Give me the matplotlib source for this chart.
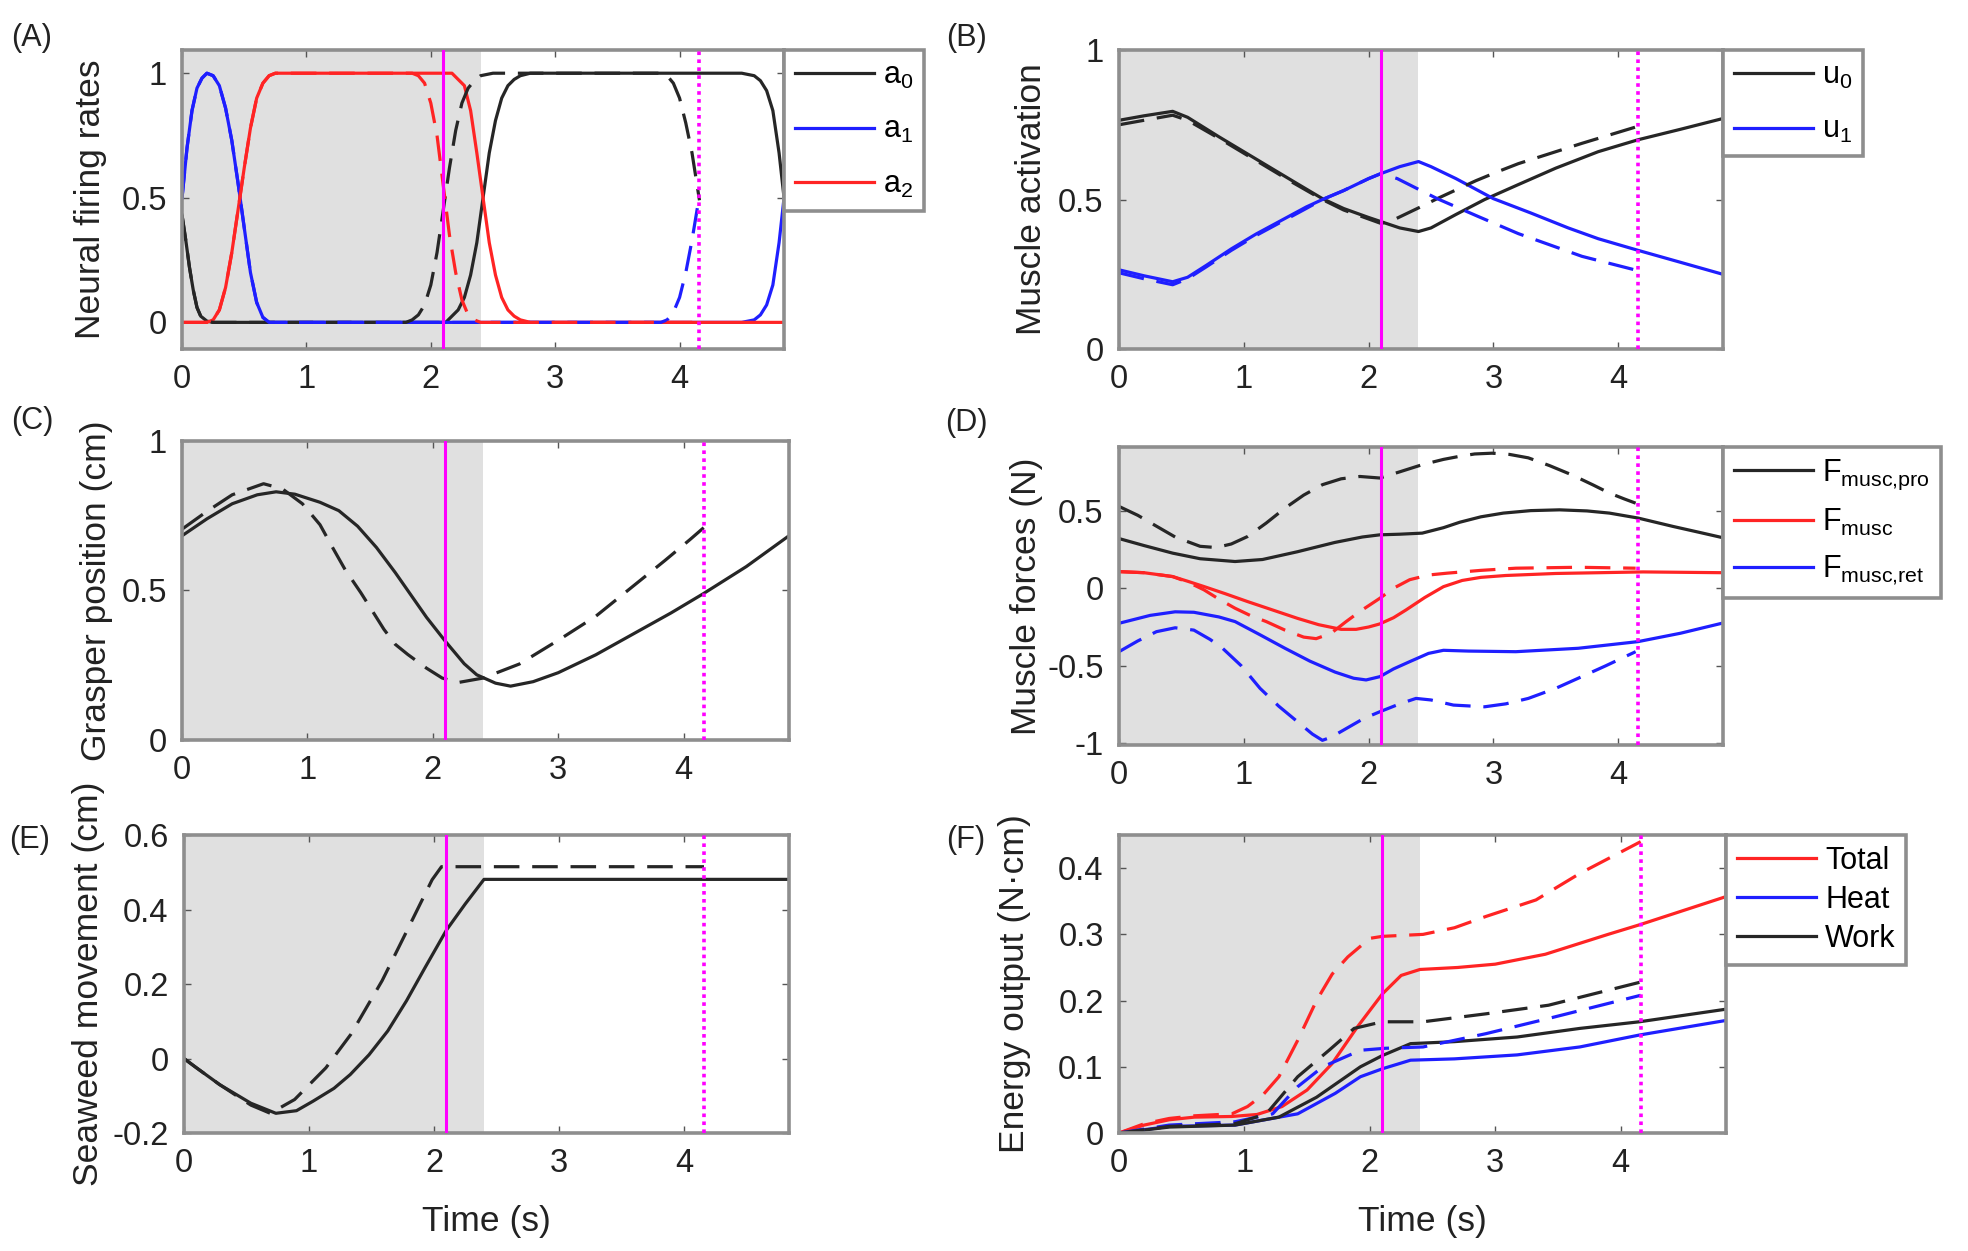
import matplotlib
matplotlib.use('Agg')
import matplotlib.pyplot as plt

plt.rcParams['font.family'] = ['Liberation Sans', 'DejaVu Sans']
plt.rcParams['mathtext.default'] = 'regular'

# ---- data (time in s) ----
# (A) neural firing rates
a0_t = [0, 0.03, 0.06, 0.09, 0.12, 0.15, 0.2, 0.25, 2.12, 2.17, 2.22, 2.27, 2.32, 2.37, 2.42,
        2.47, 2.52, 2.57, 2.62, 2.67, 2.72, 2.8, 4.5, 4.6, 4.65, 4.7, 4.75, 4.8, 4.84]
a0 = [0.43, 0.33, 0.22, 0.13, 0.06, 0.025, 0.005, 0, 0, 0.025, 0.05, 0.10, 0.19, 0.32, 0.5,
      0.68, 0.81, 0.90, 0.95, 0.975, 0.99, 1.0, 1.0, 0.99, 0.97, 0.93, 0.85, 0.68, 0.5]
a1_t = [0, 0.04, 0.08, 0.12, 0.16, 0.2, 0.25, 0.3, 0.35, 0.4, 0.45, 0.5, 0.55, 0.6, 0.65, 0.7,
        4.5, 4.6, 4.65, 4.7, 4.75, 4.8, 4.84]
a1 = [0.5, 0.7, 0.85, 0.94, 0.98, 1.0, 0.99, 0.95, 0.86, 0.73, 0.56, 0.38, 0.2, 0.08, 0.02, 0,
      0, 0.01, 0.03, 0.07, 0.15, 0.32, 0.5]
a2_t = [0, 0.2, 0.25, 0.3, 0.35, 0.4, 0.45, 0.5, 0.55, 0.6, 0.65, 0.7, 0.75, 2.17, 2.22, 2.27,
        2.32, 2.37, 2.42, 2.47, 2.52, 2.57, 2.62, 2.67, 2.72, 2.8, 4.84]
a2 = [0, 0, 0.01, 0.05, 0.14, 0.28, 0.45, 0.62, 0.78, 0.9, 0.96, 0.99, 1.0, 1.0, 0.975, 0.95,
      0.85, 0.68, 0.5, 0.32, 0.19, 0.10, 0.05, 0.025, 0.01, 0, 0]
a0d_t = [0, 0.03, 0.06, 0.09, 0.12, 0.15, 0.2, 0.25, 1.8, 1.85, 1.9, 1.95, 2.0, 2.05, 2.1, 2.15,
         2.2, 2.25, 2.3, 2.35, 2.4, 2.5, 3.85, 3.9, 3.95, 4.0, 4.05, 4.1, 4.16]
a0d = [0.43, 0.33, 0.22, 0.13, 0.06, 0.025, 0.005, 0, 0, 0.01, 0.03, 0.07, 0.15, 0.28, 0.45,
       0.62, 0.77, 0.88, 0.94, 0.97, 0.99, 1.0, 1.0, 0.99, 0.96, 0.9, 0.8, 0.68, 0.49]
a1d_t = [0, 0.04, 0.08, 0.12, 0.16, 0.2, 0.25, 0.3, 0.35, 0.4, 0.45, 0.5, 0.55, 0.6, 0.65, 0.7,
         3.85, 3.9, 3.95, 4.0, 4.05, 4.1, 4.16]
a1d = [0.5, 0.7, 0.85, 0.94, 0.98, 1.0, 0.99, 0.95, 0.86, 0.73, 0.56, 0.38, 0.2, 0.08, 0.02, 0,
       0, 0.01, 0.04, 0.1, 0.2, 0.33, 0.51]
a2d_t = [0, 0.2, 0.25, 0.3, 0.35, 0.4, 0.45, 0.5, 0.55, 0.6, 0.65, 0.7, 0.75, 1.85, 1.9, 1.95,
         2.0, 2.05, 2.1, 2.15, 2.2, 2.25, 2.3, 2.35, 2.4, 4.16]
a2d = [0, 0, 0.01, 0.05, 0.14, 0.28, 0.45, 0.62, 0.78, 0.9, 0.96, 0.99, 1.0, 1.0, 0.99, 0.96,
       0.88, 0.75, 0.55, 0.35, 0.2, 0.09, 0.03, 0.01, 0, 0]

# (B) muscle activation
u0_t = [0, 0.2, 0.43, 0.55, 0.8, 1.0, 1.2, 1.4, 1.63, 1.8, 2.0, 2.1, 2.25, 2.4, 2.5, 2.7, 2.93,
        3.2, 3.5, 3.84, 4.16, 4.5, 4.83]
u0 = [0.765, 0.78, 0.795, 0.775, 0.71, 0.66, 0.61, 0.56, 0.503, 0.47, 0.44, 0.426, 0.405, 0.393,
      0.405, 0.45, 0.5, 0.55, 0.605, 0.66, 0.70, 0.735, 0.77]
u1_t = [0, 0.2, 0.43, 0.55, 0.7, 0.9, 1.1, 1.3, 1.5, 1.63, 1.8, 2.0, 2.1, 2.25, 2.4, 2.5, 2.7,
        3.0, 3.3, 3.6, 3.84, 4.16, 4.5, 4.83]
u1 = [0.265, 0.245, 0.225, 0.24, 0.28, 0.335, 0.385, 0.43, 0.475, 0.5, 0.53, 0.57, 0.587, 0.61,
      0.627, 0.61, 0.57, 0.503, 0.455, 0.405, 0.369, 0.33, 0.29, 0.251]
u0d_t = [0, 0.2, 0.43, 0.55, 0.8, 1.0, 1.2, 1.4, 1.63, 1.8, 2.0, 2.1, 2.2, 2.42, 2.55, 2.86,
         3.04, 3.2, 3.71, 4.16]
u0d = [0.75, 0.765, 0.782, 0.765, 0.705, 0.655, 0.605, 0.555, 0.5, 0.465, 0.435, 0.42, 0.432,
       0.476, 0.503, 0.563, 0.594, 0.62, 0.688, 0.745]
u1d_t = [0, 0.2, 0.43, 0.55, 0.7, 0.9, 1.1, 1.3, 1.5, 1.63, 1.8, 2.0, 2.1, 2.23, 2.42, 2.55,
         2.88, 3.2, 3.71, 4.16]
u1d = [0.255, 0.235, 0.215, 0.235, 0.275, 0.33, 0.38, 0.425, 0.47, 0.5, 0.53, 0.57, 0.587, 0.57,
       0.53, 0.503, 0.443, 0.386, 0.31, 0.262]

# (C) grasper position
xg_t = [0, 0.2, 0.4, 0.6, 0.75, 0.9, 1.1, 1.25, 1.4, 1.55, 1.7, 1.8, 1.95, 2.1, 2.25, 2.35, 2.5,
        2.62, 2.8, 3.0, 3.3, 3.6, 3.9, 4.16, 4.5, 4.84]
xg = [0.683, 0.74, 0.79, 0.82, 0.83, 0.822, 0.795, 0.767, 0.715, 0.644, 0.56, 0.50, 0.41, 0.33,
      0.255, 0.218, 0.19, 0.18, 0.195, 0.225, 0.285, 0.355, 0.425, 0.49, 0.58, 0.683]
xgd_t = [0, 0.2, 0.4, 0.65, 0.8, 0.96, 1.1, 1.2, 1.3, 1.425, 1.52, 1.61, 1.7, 1.8, 1.95, 2.075,
         2.2, 2.4, 2.69, 3.01, 3.3, 3.575, 3.85, 4.05, 4.16]
xgd = [0.705, 0.765, 0.82, 0.857, 0.84, 0.79, 0.72, 0.644, 0.57, 0.493, 0.43, 0.37, 0.32, 0.286,
       0.24, 0.207, 0.192, 0.207, 0.254, 0.336, 0.414, 0.507, 0.60, 0.67, 0.71]

# (D) muscle forces
fpro_t = [0, 0.2, 0.43, 0.65, 0.93, 1.15, 1.43, 1.73, 1.95, 2.09, 2.25, 2.43, 2.6, 2.73, 2.9,
          3.08, 3.3, 3.53, 3.75, 3.93, 4.16, 4.44, 4.65, 4.83]
fpro = [0.32, 0.275, 0.226, 0.19, 0.172, 0.185, 0.235, 0.295, 0.33, 0.344, 0.348, 0.355, 0.39,
        0.425, 0.46, 0.484, 0.5, 0.505, 0.498, 0.484, 0.452, 0.398, 0.36, 0.327]
fmus_t = [0, 0.2, 0.43, 0.55, 0.68, 0.85, 1.03, 1.23, 1.43, 1.6, 1.78, 1.9, 2.0, 2.09, 2.2, 2.3,
          2.45, 2.6, 2.75, 2.9, 3.1, 3.5, 4.2, 4.83]
fmus = [0.107, 0.1, 0.075, 0.045, 0.011, -0.035, -0.086, -0.14, -0.194, -0.235, -0.265, -0.265,
        -0.25, -0.23, -0.19, -0.14, -0.06, 0.01, 0.05, 0.07, 0.082, 0.095, 0.105, 0.1]
fret_t = [0, 0.25, 0.45, 0.6, 0.8, 0.93, 1.13, 1.33, 1.53, 1.73, 1.88, 1.98, 2.09, 2.2, 2.33,
          2.48, 2.6, 2.8, 3.18, 3.68, 4.16, 4.5, 4.83]
fret = [-0.226, -0.175, -0.152, -0.155, -0.185, -0.215, -0.3, -0.387, -0.47, -0.54, -0.58,
        -0.591, -0.57, -0.52, -0.473, -0.42, -0.4, -0.405, -0.409, -0.387, -0.344, -0.29, -0.226]
fprod_t = [0, 0.15, 0.28, 0.45, 0.65, 0.78, 0.9, 1.03, 1.18, 1.33, 1.48, 1.63, 1.78, 1.93, 2.09,
           2.25, 2.43, 2.6, 2.73, 2.85, 2.99, 3.13, 3.28, 3.45, 3.63, 3.8, 3.93, 4.05, 4.14]
fprod = [0.527, 0.47, 0.409, 0.33, 0.27, 0.262, 0.285, 0.333, 0.42, 0.516, 0.6, 0.667, 0.705,
         0.72, 0.71, 0.75, 0.796, 0.83, 0.85, 0.865, 0.87, 0.862, 0.84, 0.79, 0.73, 0.665,
         0.613, 0.575, 0.548]
fmusd_t = [0, 0.2, 0.43, 0.55, 0.68, 0.8, 0.93, 1.05, 1.18, 1.33, 1.48, 1.58, 1.7, 1.82, 1.93,
           2.09, 2.2, 2.33, 2.48, 2.63, 2.9, 3.18, 3.68, 4.14]
fmusd = [0.107, 0.1, 0.075, 0.04, -0.01, -0.07, -0.129, -0.175, -0.215, -0.27, -0.315, -0.325,
         -0.29, -0.215, -0.15, -0.065, 0.0, 0.055, 0.085, 0.097, 0.115, 0.129, 0.135, 0.129]
fretd_t = [0, 0.15, 0.3, 0.45, 0.6, 0.73, 0.83, 0.98, 1.13, 1.28, 1.43, 1.55, 1.63, 1.7, 1.83,
           1.96, 2.09, 2.25, 2.38, 2.5, 2.68, 2.93, 3.1, 3.28, 3.5, 3.68, 3.9, 4.14]
fretd = [-0.409, -0.34, -0.28, -0.255, -0.27, -0.33, -0.387, -0.5, -0.645, -0.76, -0.86, -0.94,
         -0.98, -0.96, -0.90, -0.84, -0.796, -0.745, -0.71, -0.72, -0.753, -0.764, -0.745,
         -0.71, -0.645, -0.58, -0.5, -0.409]

# (E) seaweed movement
sw_t = [0, 0.1, 0.285, 0.535, 0.735, 0.9, 1.03, 1.2, 1.33, 1.48, 1.63, 1.78, 1.93, 2.1, 2.25,
        2.4, 4.84]
sw = [0, -0.025, -0.07, -0.12, -0.147, -0.14, -0.115, -0.08, -0.043, 0.01, 0.074, 0.155, 0.245,
      0.345, 0.415, 0.481, 0.481]
swd_t = [0, 0.1, 0.285, 0.535, 0.69, 0.885, 1.135, 1.335, 1.585, 1.785, 1.985, 2.06, 4.16]
swd = [0, -0.025, -0.07, -0.125, -0.147, -0.11, -0.025, 0.065, 0.209, 0.344, 0.48, 0.515, 0.515]

# (F) energy output
tot_t = [0, 0.2, 0.4, 0.6, 0.9, 1.1, 1.3, 1.5, 1.7, 1.9, 2.1, 2.25, 2.4, 2.7, 3.0, 3.4, 3.9,
         4.16, 4.84]
tot = [0, 0.012, 0.02, 0.024, 0.025, 0.028, 0.04, 0.065, 0.105, 0.16, 0.21, 0.238, 0.247, 0.25,
       0.255, 0.27, 0.30, 0.315, 0.357]
heat_t = [0, 0.4, 0.925, 1.425, 1.725, 1.925, 2.1, 2.325, 2.675, 3.175, 3.675, 4.15, 4.84]
heat = [0, 0.01, 0.012, 0.029, 0.06, 0.085, 0.097, 0.11, 0.112, 0.118, 0.13, 0.148, 0.17]
work_t = [0, 0.4, 0.925, 1.275, 1.575, 1.925, 2.1, 2.325, 2.675, 3.175, 3.675, 4.15, 4.84]
work = [0, 0.009, 0.012, 0.024, 0.054, 0.10, 0.117, 0.135, 0.138, 0.145, 0.158, 0.168, 0.187]
totd_t = [0, 0.2, 0.4, 0.6, 0.9, 1.025, 1.15, 1.275, 1.425, 1.575, 1.7, 1.825, 2.0, 2.1, 2.425,
          2.675, 2.925, 3.325, 3.675, 4.16]
totd = [0, 0.014, 0.022, 0.026, 0.029, 0.04, 0.058, 0.085, 0.14, 0.20, 0.24, 0.266, 0.294,
        0.297, 0.30, 0.31, 0.327, 0.352, 0.392, 0.44]
heatd_t = [0, 0.4, 0.925, 1.225, 1.425, 1.625, 1.925, 2.125, 2.425, 2.925, 3.425, 4.16]
heatd = [0, 0.012, 0.017, 0.029, 0.07, 0.10, 0.125, 0.128, 0.13, 0.15, 0.173, 0.208]
workd_t = [0, 0.4, 0.925, 1.175, 1.425, 1.675, 1.875, 2.1, 2.425, 2.925, 3.425, 4.16]
workd = [0, 0.01, 0.014, 0.029, 0.085, 0.125, 0.158, 0.168, 0.168, 0.18, 0.193, 0.228]

x_ticks = [0, 1, 2, 3, 4]
x_labels = ['0', '1', '2', '3', '4']
t_end = 4.84
t_shade = 2.4
t_switch = 2.1
t_period = 4.16

# ---- styling ----
K, B, R = '#262626', '#1f1fff', '#ff2424'
MAG = '#ff00ff'
SHADE = '#e0e0e0'
FRAME = '#8e8e8e'
LW = 2.3
DASH = (0, (8, 4))

fig = plt.figure(figsize=(19.68, 12.51), dpi=100)

positions = {
    'A': [0.0925, 0.7210, 0.3059, 0.2390],
    'B': [0.5686, 0.7210, 0.3069, 0.2390],
    'C': [0.0925, 0.4085, 0.3084, 0.2390],
    'D': [0.5686, 0.4045, 0.3069, 0.2382],
    'E': [0.0935, 0.0943, 0.3074, 0.2382],
    'F': [0.5686, 0.0943, 0.3084, 0.2382],
}


def setup(ax, ylim, yticks, ylabels, ylabel, ylab_x):
    ax.set_xlim(0, t_end)
    ax.set_ylim(*ylim)
    ax.axvspan(0, t_shade, color=SHADE, zorder=0, lw=0)
    ax.axvline(t_switch, color=MAG, lw=2.2, zorder=4)
    ax.axvline(t_period, color=MAG, lw=2.6, ls=(0, (1, 1.2)), zorder=4)
    ax.set_xticks(x_ticks)
    ax.set_xticklabels(x_labels)
    ax.set_yticks(yticks)
    ax.set_yticklabels(ylabels)
    ax.tick_params(direction='in', top=True, right=True, length=5, width=1,
                   color='#555555', labelsize=23.5, pad=11, labelcolor='#222222')
    for s in ax.spines.values():
        s.set_color(FRAME)
        s.set_linewidth(2.6)
    ax.set_ylabel(ylabel, fontsize=25.5, color='#222222')
    ax.yaxis.set_label_coords(ylab_x, 0.5)


def legend(ax, handles, labels, spacing):
    leg = ax.legend(handles, labels, loc='upper left', bbox_to_anchor=(1.0, 1.0),
                    borderaxespad=0, fancybox=False, fontsize=22, handlelength=2.6,
                    handletextpad=0.3, borderpad=0.35, labelspacing=spacing,
                    framealpha=1)
    leg.get_frame().set_edgecolor(FRAME)
    leg.get_frame().set_linewidth(2.6)


axs = {k: fig.add_axes(v) for k, v in positions.items()}

# (A)
ax = axs['A']
setup(ax, (-0.107, 1.093), [0, 0.5, 1], ['0', '0.5', '1'], 'Neural firing rates', -0.125)
h0, = ax.plot(a0_t, a0, color=K, lw=LW)
h1, = ax.plot(a1_t, a1, color=B, lw=LW)
h2, = ax.plot(a2_t, a2, color=R, lw=LW)
ax.plot(a0d_t, a0d, color=K, lw=LW, ls=DASH)
ax.plot(a1d_t, a1d, color=B, lw=LW, ls=DASH)
ax.plot(a2d_t, a2d, color=R, lw=LW, ls=DASH)
legend(ax, [h0, h1, h2], ['a$_0$', 'a$_1$', 'a$_2$'], 0.8)

# (B)
ax = axs['B']
setup(ax, (0, 1), [0, 0.5, 1], ['0', '0.5', '1'], 'Muscle activation', -0.118)
h0, = ax.plot(u0_t, u0, color=K, lw=LW)
h1, = ax.plot(u1_t, u1, color=B, lw=LW)
ax.plot(u0d_t, u0d, color=K, lw=LW, ls=DASH)
ax.plot(u1d_t, u1d, color=B, lw=LW, ls=DASH)
legend(ax, [h0, h1], ['u$_0$', 'u$_1$'], 0.8)

# (C)
ax = axs['C']
setup(ax, (0, 1), [0, 0.5, 1], ['0', '0.5', '1'], 'Grasper position (cm)', -0.114)
ax.plot(xg_t, xg, color=K, lw=LW)
ax.plot(xgd_t, xgd, color=K, lw=LW, ls=DASH)

# (D)
ax = axs['D']
setup(ax, (-1.01, 0.91), [-1, -0.5, 0, 0.5], ['-1', '-0.5', '0', '0.5'],
      'Muscle forces (N)', -0.126)
h0, = ax.plot(fpro_t, fpro, color=K, lw=LW)
h1, = ax.plot(fmus_t, fmus, color=R, lw=LW)
h2, = ax.plot(fret_t, fret, color=B, lw=LW)
ax.plot(fprod_t, fprod, color=K, lw=LW, ls=DASH)
ax.plot(fmusd_t, fmusd, color=R, lw=LW, ls=DASH)
ax.plot(fretd_t, fretd, color=B, lw=LW, ls=DASH)
legend(ax, [h0, h1, h2], ['F$_{musc{,}pro}$', 'F$_{musc}$', 'F$_{musc{,}ret}$'], 0.5)

# (E)
ax = axs['E']
setup(ax, (-0.2, 0.6), [-0.2, 0, 0.2, 0.4, 0.6], ['-0.2', '0', '0.2', '0.4', '0.6'],
      'Seaweed movement (cm)', -0.13)
ax.plot(sw_t, sw, color=K, lw=LW)
ax.plot(swd_t, swd, color=K, lw=LW, ls=DASH)
ax.set_xlabel('Time (s)', fontsize=25.5, color='#222222')
ax.xaxis.set_label_coords(0.5, -0.24)

# (F)
ax = axs['F']
setup(ax, (0, 0.45), [0, 0.1, 0.2, 0.3, 0.4], ['0', '0.1', '0.2', '0.3', '0.4'],
      'Energy output (N\u00b7cm)', -0.145)
h0, = ax.plot(tot_t, tot, color=R, lw=LW)
h1, = ax.plot(heat_t, heat, color=B, lw=LW)
h2, = ax.plot(work_t, work, color=K, lw=LW)
ax.plot(totd_t, totd, color=R, lw=LW, ls=DASH)
ax.plot(heatd_t, heatd, color=B, lw=LW, ls=DASH)
ax.plot(workd_t, workd, color=K, lw=LW, ls=DASH)
legend(ax, [h0, h1, h2], ['Total', 'Heat', 'Work'], 0.3)
ax.set_xlabel('Time (s)', fontsize=25.5, color='#222222')
ax.xaxis.set_label_coords(0.5, -0.24)

# panel letters
for lab, (x, y) in {'(A)': (32, 38), '(B)': (966, 38), '(C)': (32, 421),
                    '(D)': (966, 423), '(E)': (30, 840), '(F)': (966, 840)}.items():
    fig.text(x / 1968, 1 - y / 1251, lab, fontsize=22, ha='center', va='center',
             color='#222222')

fig.savefig('out.png', dpi=100)
